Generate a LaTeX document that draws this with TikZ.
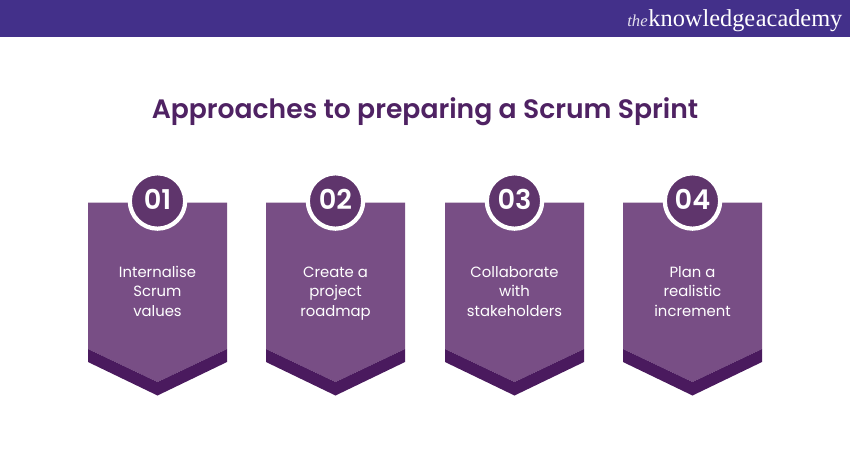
\documentclass[tikz,border=0pt]{standalone}
\usepackage{fontspec}
\setmainfont{Poppins}
\newfontfamily\semifont{Poppins SemiBold}
\newfontfamily\logofont{Liberation Serif}
\definecolor{headerblue}{HTML}{43308A}
\definecolor{titlepurple}{HTML}{4F2263}
\definecolor{cardpurple}{HTML}{784E85}
\definecolor{banddark}{HTML}{4A1A5E}
\definecolor{badgepurple}{HTML}{5F356C}
\tikzset{
    card/.style={fill=cardpurple, draw=none},
    band/.style={fill=banddark, draw=none},
    badge/.style={circle, draw=white, line width=2.4pt, fill=badgepurple, text=white, minimum size=31.5pt, inner sep=0pt, text depth=2pt, font=\semifont\fontsize{15.5}{15.5}\selectfont},
    cardtext/.style={align=center, text=white, font=\fontsize{8.45}{11.35}\selectfont},
}
\begin{document}
\begin{tikzpicture}[x=0.02cm, y=-0.02cm]
    \useasboundingbox (0, 0) rectangle (850, 450);
    \fill[white] (0, 0) rectangle (850, 450);
    \fill[headerblue] (0, 0) rectangle (850, 36.5);
    % logo
    \node[anchor=base west, inner sep=0pt, text=white!85!headerblue, font=\logofont\itshape\fontsize{9.5}{9.5}\selectfont] (the) at (627, 26) {the};
    \node[anchor=base west, inner sep=0pt, text=white, font=\logofont\fontsize{13.85}{13.85}\selectfont] (knowledge) at (the.base east) {knowledge};
    \node[anchor=base west, inner sep=0pt, text=white, font=\logofont\fontsize{13.85}{13.85}\selectfont] (academy) at (knowledge.base east) {academy};
    % title
    \node[text=titlepurple, inner sep=0pt, font=\semifont\fontsize{15.15}{15.15}\selectfont] (title) at (425, 112) {Approaches to preparing a Scrum Sprint};
    % cards
    \fill[card] (88, 202.5) -- (227, 202.5) -- (227, 349) -- (157.5, 382) -- (88, 349) -- cycle;
    \fill[card] (266, 202.5) -- (405, 202.5) -- (405, 349) -- (335.5, 382) -- (266, 349) -- cycle;
    \fill[card] (445, 202.5) -- (584, 202.5) -- (584, 349) -- (514.5, 382) -- (445, 349) -- cycle;
    \fill[card] (623, 202.5) -- (762, 202.5) -- (762, 349) -- (692.5, 382) -- (623, 349) -- cycle;
    \fill[band] (88, 349) -- (157.5, 382) -- (227, 349) -- (227, 362) -- (157.5, 395.5) -- (88, 362) -- cycle;
    \fill[band] (266, 349) -- (335.5, 382) -- (405, 349) -- (405, 362) -- (335.5, 395.5) -- (266, 362) -- cycle;
    \fill[band] (445, 349) -- (514.5, 382) -- (584, 349) -- (584, 362) -- (514.5, 395.5) -- (445, 362) -- cycle;
    \fill[band] (623, 349) -- (692.5, 382) -- (762, 349) -- (762, 362) -- (692.5, 395.5) -- (623, 362) -- cycle;
    % badges
    \node[badge] (b1) at (157.5, 201) {01};
    \node[badge] (b2) at (335.5, 201) {02};
    \node[badge] (b3) at (514.5, 201) {03};
    \node[badge] (b4) at (692.5, 201) {04};
    % card labels
    \node[cardtext] (t1) at (157.5, 293) {\strut Internalise\\Scrum\\values\strut};
    \node[cardtext] (t2) at (335.5, 293) {\strut Create a\\project\\roadmap\strut};
    \node[cardtext] (t3) at (514.5, 293) {\strut Collaborate\\with\\stakeholders\strut};
    \node[cardtext] (t4) at (692.5, 293) {\strut Plan a\\realistic\\increment\strut};
\end{tikzpicture}
\end{document}
